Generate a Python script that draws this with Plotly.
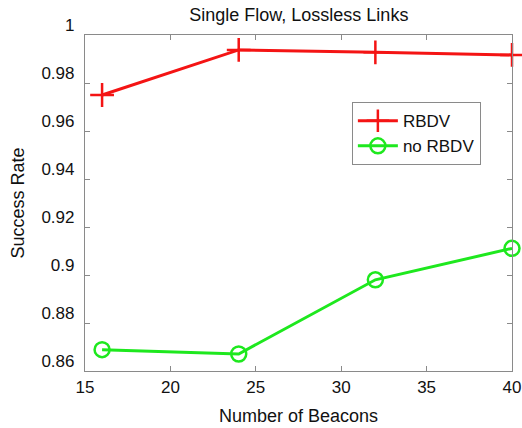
import plotly.graph_objects as go

beacons = [16, 24, 32, 40]
rbdv = [0.975, 0.9938, 0.9928, 0.9917]
no_rbdv = [0.8689, 0.8671, 0.898, 0.9111]

y_ticks = [0.86, 0.88, 0.90, 0.92, 0.94, 0.96, 0.98, 1.0]
y_tick_labels = ["0.86", "0.88", "0.9", "0.92", "0.94", "0.96", "0.98", "1"]
x_ticks = [15, 20, 25, 30, 35, 40]
x_tick_labels = ["15", "20", "25", "30", "35", "40"]

FONT = "Liberation Sans, Arial, Helvetica, sans-serif"
AXIS_COLOR = "#8a8a8a"

fig = go.Figure()
fig.add_trace(go.Scatter(
    x=beacons, y=rbdv, name="RBDV", mode="lines+markers",
    line=dict(color="#f41414", width=3),
    marker=dict(symbol="cross-thin-open", size=17, color="#f41414",
                line=dict(color="#f41414", width=2.5)),
    cliponaxis=False,
))
fig.add_trace(go.Scatter(
    x=beacons, y=no_rbdv, name="no RBDV", mode="lines+markers",
    line=dict(color="#1ee81e", width=3),
    marker=dict(symbol="circle-open", size=15, color="#1ee81e",
                line=dict(color="#1ee81e", width=2.5)),
    cliponaxis=False,
))

axis_common = dict(
    showgrid=False, zeroline=False, showline=True, linecolor=AXIS_COLOR,
    linewidth=1.2, mirror="ticks", ticks="inside", ticklen=5,
    tickcolor=AXIS_COLOR, tickwidth=1, automargin=False,
    tickfont=dict(family=FONT, size=17, color="#111111"),
)

fig.update_layout(
    width=522, height=428,
    margin=dict(l=85, r=10, t=35, b=57),
    paper_bgcolor="white", plot_bgcolor="white",
    font=dict(family=FONT, size=18, color="#111111"),
    title=dict(text="Single Flow, Lossless Links", x=0.5725, xanchor="center",
               y=1 - 15 / 428, yanchor="middle",
               font=dict(family=FONT, size=18, color="#111111")),
    xaxis=dict(range=[15, 40], tickvals=x_ticks, ticktext=x_tick_labels,
               title=dict(text="Number of Beacons", standoff=13,
                          font=dict(family=FONT, size=18)),
               **axis_common),
    yaxis=dict(range=[0.86, 1.0], tickvals=y_ticks, ticktext=y_tick_labels,
               ticklabelshift=-10, ticklabelstandoff=6,
               title=dict(text="Success Rate", standoff=12,
                          font=dict(family=FONT, size=18)),
               **axis_common),
    legend=dict(x=0.625, y=0.80, xanchor="left", yanchor="top",
                bgcolor="white", bordercolor="#8a8a8a", borderwidth=1,
                font=dict(family=FONT, size=17, color="#111111"),
                itemwidth=40, tracegroupgap=0),
    showlegend=True,
)

fig.write_html("out.html", config={"displayModeBar": False},
               post_script="document.body.style.margin='0';")
